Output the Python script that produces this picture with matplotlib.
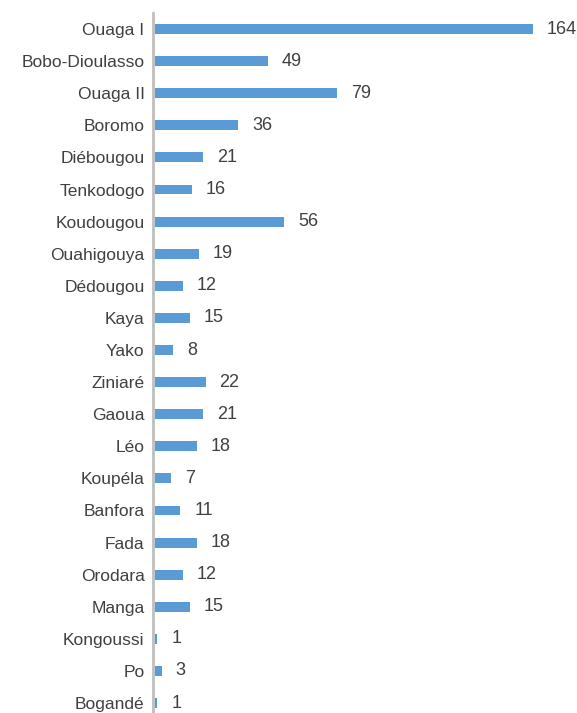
import matplotlib.pyplot as plt

cities = ['Ouaga I', 'Bobo-Dioulasso', 'Ouaga II', 'Boromo', 'Diébougou', 'Tenkodogo',
          'Koudougou', 'Ouahigouya', 'Dédougou', 'Kaya', 'Yako', 'Ziniaré', 'Gaoua',
          'Léo', 'Koupéla', 'Banfora', 'Fada', 'Orodara', 'Manga', 'Kongoussi', 'Po',
          'Bogandé']
counts = [164, 49, 79, 36, 21, 16, 56, 19, 12, 15, 8, 22, 21, 18, 7, 11, 18, 12, 15,
          1, 3, 1]

plt.rcParams['font.family'] = ['Liberation Sans', 'DejaVu Sans']

fig = plt.figure(figsize=(5.77, 7.13), dpi=100)
ax = fig.add_axes([155 / 577, 0, 1 - 155 / 577, 1 - 13 / 713])

# spine first: set_position resets the tick labels
for s in ['top', 'right', 'bottom']:
    ax.spines[s].set_visible(False)
ax.spines['left'].set_color('#BFBFBF')
ax.spines['left'].set_linewidth(2)
ax.spines['left'].set_position(('outward', 1.5))

pos = list(range(len(cities)))
ax.barh(pos, counts, height=0.31, color='#5B9BD5', zorder=3)
for y, v in zip(pos, counts):
    ax.annotate(str(v), (v, y), xytext=(10, 0), textcoords='offset points',
                ha='left', va='center', fontsize=13, color='#404040')

ax.set_xlim(0, 183)
ax.set_ylim(21.31, -0.5)
ax.set_yticks(pos)
ax.set_yticklabels(cities)
ax.tick_params(axis='y', length=0, pad=6, labelsize=12.5, labelcolor='#404040')
ax.set_xticks([])

plt.savefig('out.png', dpi=100)
